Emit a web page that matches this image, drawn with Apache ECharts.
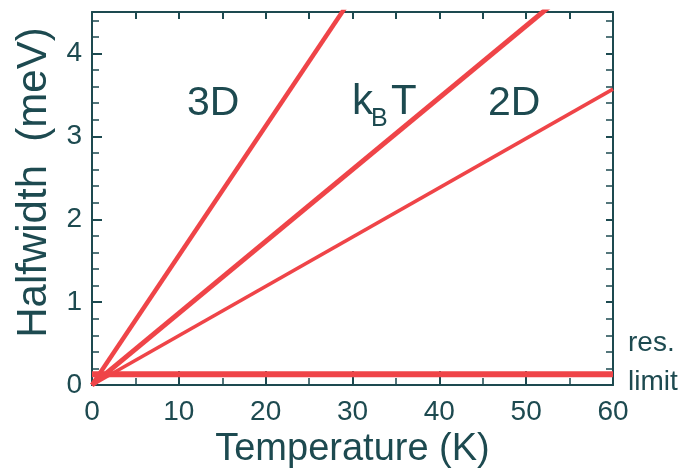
<!doctype html>
<html>
<head>
	<meta charset="utf-8">
	<title></title>
	<script src="https://cdn.jsdelivr.net/npm/echarts@6/dist/echarts.min.js"></script>
	<style>
		body { margin: 0; background: #fff; }
	</style>
</head>
<body>
	<div id="main" style="width:684px;height:474px;"></div>
	<script type="text/javascript">
		// temperatures (K) at line ends, halfwidths in meV
		var temps = [0, 60];
		var line3D = [0, 9.37];
		var lineKBT = [0, 5.2];
		var line2D = [0, 3.57];
		var resLimit = [0.13, 0.13];

		var xTicks = [0, 10, 20, 30, 40, 50, 60];
		var yTicks = [0, 1, 2, 3, 4];

		var red = '#ef4448';
		var ink = '#1d4a50';
		var font = '"Liberation Sans", Arial, sans-serif';

		function pts(ys) {
			return temps.map((t, i) => [t, ys[i]]);
		}

		function mkLine(name, ys, w) {
			return {
				name: name,
				type: 'line',
				data: pts(ys),
				symbol: 'none',
				clip: true,
				lineStyle: { color: red, width: w },
				z: 1
			};
		}

		function txt(s, x, y, size) {
			return {
				type: 'text', x: x, y: y,
				style: { text: s, fill: ink, fontSize: size, fontFamily: font, verticalAlign: 'middle' }
			};
		}

		var myChart = echarts.init(document.getElementById('main'));

		var axisLine = { show: true, onZero: false, lineStyle: { color: ink, width: 2 } };
		var tickStyle = { color: ink, width: 2 };
		var minorStyle = { color: ink, width: 1.5 };

		var option = {
			animation: false,
			grid: { left: 92, right: 71, top: 12, bottom: 86 },
			xAxis: [
				{
					type: 'value', position: 'bottom',
					min: xTicks[0], max: xTicks[xTicks.length - 1], interval: 10,
					axisLine: axisLine,
					axisTick: { inside: true, length: 14, lineStyle: tickStyle },
					minorTick: { show: true, splitNumber: 2, length: 7, lineStyle: minorStyle },
					splitLine: { show: false },
					axisLabel: { color: ink, fontSize: 28, fontFamily: font, margin: 13 },
					name: 'Temperature (K)', nameLocation: 'middle', nameGap: 41,
					nameTextStyle: { color: ink, fontSize: 38, fontFamily: font }
				},
				{
					type: 'value', position: 'top',
					min: 0, max: 60, interval: 5,
					axisLine: axisLine,
					axisTick: { inside: true, length: 7, lineStyle: tickStyle },
					splitLine: { show: false },
					axisLabel: { show: false }
				}
			],
			yAxis: [
				{
					type: 'value', position: 'left',
					min: yTicks[0], max: 4.5, interval: 1,
					axisLine: axisLine,
					axisTick: { inside: true, length: 10, lineStyle: tickStyle },
					minorTick: { show: true, splitNumber: 5, length: 7, lineStyle: minorStyle },
					splitLine: { show: false },
					axisLabel: {
						color: ink, fontSize: 28, fontFamily: font, margin: 10,
						formatter: v => (yTicks.indexOf(v) >= 0 ? String(v) : '')
					},
					name: 'Halfwidth  (meV)', nameLocation: 'middle', nameGap: 33,
					nameTextStyle: { color: ink, fontSize: 42, fontFamily: font, padding: [0, 0, 0, 32] }
				},
				{
					type: 'value', position: 'right',
					min: 0, max: 4.5, interval: 1,
					axisLine: axisLine,
					axisTick: { inside: true, length: 7, lineStyle: tickStyle },
					minorTick: { show: true, splitNumber: 5, length: 7, lineStyle: minorStyle },
					splitLine: { show: false },
					axisLabel: { show: false }
				}
			],
			graphic: [
				txt('3D', 187, 104, 41),
				txt('k', 352, 102, 42),
				txt('B', 371, 119, 25),
				txt('T', 391, 102, 42),
				txt('2D', 488, 104, 41),
				txt('res.', 628, 343, 28),
				txt('limit', 628, 382, 28)
			],
			series: [
				mkLine('3D', line3D, 4.5),
				mkLine('kBT', lineKBT, 5),
				mkLine('2D', line2D, 3.5),
				mkLine('res. limit', resLimit, 6)
			]
		};

		myChart.setOption(option);
	</script>
</body>
</html>
